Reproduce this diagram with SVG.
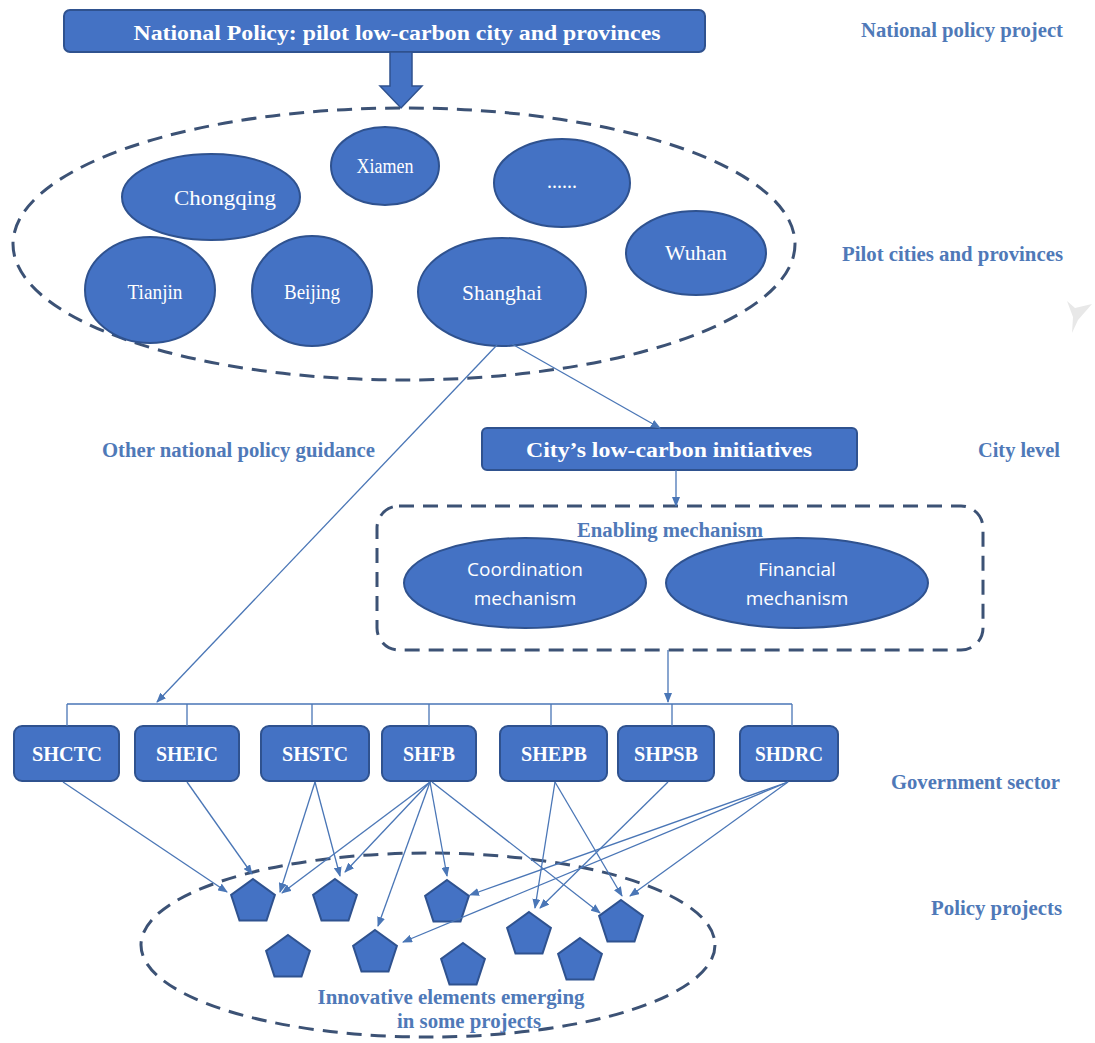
<svg xmlns="http://www.w3.org/2000/svg" width="1095" height="1043" viewBox="0 0 1095 1043">
<defs>
<style>
.box{fill:#4472C4;stroke:#2F528F;stroke-width:2}
.ell{fill:#4472C4;stroke:#2F528F;stroke-width:2}
.wt{fill:#fff;font-family:"Liberation Serif",serif;text-anchor:middle}
.wb{fill:#fff;font-family:"Liberation Serif",serif;font-weight:bold;text-anchor:middle}
.ws{fill:#fff;font-family:"Open Sans","Noto Sans",sans-serif;text-anchor:middle;font-size:19px}
.lbl{fill:#4F79B8;font-family:"Liberation Serif",serif;font-weight:bold;font-size:20px}
.dash{fill:none;stroke:#3C5275;stroke-width:3;stroke-dasharray:15 9}
.con{fill:none;stroke:#4A76B6;stroke-width:1.3;marker-end:url(#ah)}
.bus{fill:none;stroke:#4A76B6;stroke-width:1.3}
</style>
<marker id="ah" markerWidth="10" markerHeight="8" refX="9" refY="4" orient="auto" markerUnits="userSpaceOnUse">
<path d="M0,0 L10,4 L0,8 z" fill="#4A76B6"/>
</marker>
<polygon id="pent" points="0,-23 21.9,-7.1 13.5,18.6 -13.5,18.6 -21.9,-7.1" fill="#4472C4" stroke="#2F528F" stroke-width="2"/>
</defs>
<rect width="1095" height="1043" fill="#fff"/>

<g id="watermark"><polygon points="1067,301 1075,308 1092,304 1078,320 1072,333 1073,317" fill="#e8e8e8"/></g>

<g id="national-policy">
<rect class="box" x="64" y="10" width="641" height="42" rx="6"/>
<text class="wb" x="397" y="40" font-size="20" textLength="527" lengthAdjust="spacingAndGlyphs">National Policy: pilot low-carbon city and provinces</text>
</g>
<g id="block-arrow">
<polygon points="390,52 412,52 412,86 422,86 401,108 380,86 390,86" fill="#4472C4" stroke="#2F528F" stroke-width="1.5"/>
</g>

<g id="pilot-cities">
<ellipse class="dash" cx="404" cy="244" rx="391" ry="136"/>
<g id="chongqing"><ellipse class="ell" cx="211" cy="197" rx="89" ry="43"/><text class="wt" x="225" y="205" font-size="21" textLength="102" lengthAdjust="spacingAndGlyphs">Chongqing</text></g>
<g id="xiamen"><ellipse class="ell" cx="385" cy="166" rx="54" ry="39"/><text class="wt" x="385" y="173" font-size="20" textLength="57" lengthAdjust="spacingAndGlyphs">Xiamen</text></g>
<g id="etc"><ellipse class="ell" cx="562" cy="183" rx="68" ry="44"/><text class="wt" x="562" y="188" font-size="20">......</text></g>
<g id="wuhan"><ellipse class="ell" cx="696" cy="253" rx="70" ry="42"/><text class="wt" x="696" y="260" font-size="20" textLength="62" lengthAdjust="spacingAndGlyphs">Wuhan</text></g>
<g id="tianjin"><ellipse class="ell" cx="150" cy="290" rx="65" ry="53"/><text class="wt" x="155" y="299" font-size="21" textLength="55" lengthAdjust="spacingAndGlyphs">Tianjin</text></g>
<g id="beijing"><ellipse class="ell" cx="312" cy="291" rx="60" ry="55"/><text class="wt" x="312" y="299" font-size="21" textLength="56" lengthAdjust="spacingAndGlyphs">Beijing</text></g>
<g id="shanghai"><ellipse class="ell" cx="502" cy="292" rx="84" ry="54"/><text class="wt" x="502" y="300" font-size="21" textLength="80" lengthAdjust="spacingAndGlyphs">Shanghai</text></g>
</g>

<g id="city-initiatives">
<rect class="box" x="482" y="428" width="375" height="42" rx="5"/>
<text class="wb" x="669" y="457" font-size="20" textLength="286" lengthAdjust="spacingAndGlyphs">City’s low-carbon initiatives</text>
</g>

<g id="enabling">
<rect class="dash" x="377" y="506" width="606" height="144" rx="22"/>
<text class="lbl" x="670" y="537" text-anchor="middle" fill="#4A6FA5" textLength="186" lengthAdjust="spacingAndGlyphs">Enabling mechanism</text>
<g id="coordination"><ellipse class="ell" cx="525" cy="583" rx="121" ry="45"/><text class="ws" x="525" y="576">Coordination</text><text class="ws" x="525" y="605">mechanism</text></g>
<g id="financial"><ellipse class="ell" cx="797" cy="583" rx="131" ry="45"/><text class="ws" x="797" y="576">Financial</text><text class="ws" x="797" y="605">mechanism</text></g>
</g>

<g id="gov-sector">
<g id="shctc"><rect class="box" x="14" y="726" width="105" height="55" rx="8"/><text class="wb" x="67" y="761" font-size="20" textLength="70" lengthAdjust="spacingAndGlyphs">SHCTC</text></g>
<g id="sheic"><rect class="box" x="135" y="726" width="104" height="55" rx="8"/><text class="wb" x="187" y="761" font-size="20" textLength="62" lengthAdjust="spacingAndGlyphs">SHEIC</text></g>
<g id="shstc"><rect class="box" x="261" y="726" width="108" height="55" rx="8"/><text class="wb" x="315" y="761" font-size="20" textLength="66" lengthAdjust="spacingAndGlyphs">SHSTC</text></g>
<g id="shfb"><rect class="box" x="382" y="726" width="94" height="55" rx="8"/><text class="wb" x="429" y="761" font-size="20" textLength="52" lengthAdjust="spacingAndGlyphs">SHFB</text></g>
<g id="shepb"><rect class="box" x="500" y="726" width="107" height="55" rx="8"/><text class="wb" x="554" y="761" font-size="20" textLength="66" lengthAdjust="spacingAndGlyphs">SHEPB</text></g>
<g id="shpsb"><rect class="box" x="618" y="726" width="96" height="55" rx="8"/><text class="wb" x="666" y="761" font-size="20" textLength="64" lengthAdjust="spacingAndGlyphs">SHPSB</text></g>
<g id="shdrc"><rect class="box" x="740" y="726" width="98" height="55" rx="8"/><text class="wb" x="789" y="761" font-size="20" textLength="68" lengthAdjust="spacingAndGlyphs">SHDRC</text></g>
</g>

<g id="policy-projects">
<ellipse class="dash" cx="428" cy="945" rx="287" ry="92"/>
<use href="#pent" x="253" y="902"/>
<use href="#pent" x="335" y="902"/>
<use href="#pent" x="447" y="903"/>
<use href="#pent" x="621" y="923"/>
<use href="#pent" x="529" y="935"/>
<use href="#pent" x="375" y="953"/>
<use href="#pent" x="288" y="958"/>
<use href="#pent" x="463" y="966"/>
<use href="#pent" x="580" y="961"/>
<text class="lbl" x="451" y="1004" text-anchor="middle" textLength="267" lengthAdjust="spacingAndGlyphs">Innovative elements emerging</text>
<text class="lbl" x="469" y="1028" text-anchor="middle" textLength="144" lengthAdjust="spacingAndGlyphs">in some projects</text>
</g>

<g id="connectors">
<line class="con" x1="512" y1="344" x2="660" y2="428"/>
<line class="con" x1="497" y1="345" x2="157" y2="702"/>
<line class="con" x1="676" y1="470" x2="676" y2="506"/>
<line class="con" x1="668" y1="650" x2="668" y2="702"/>
<path class="bus" d="M67,704 H792 M67,704 V726 M187,704 V726 M312,704 V726 M429,704 V726 M551,704 V726 M672,704 V726 M792,704 V726"/>
<line class="con" x1="63" y1="782" x2="227" y2="892"/>
<line class="con" x1="187" y1="782" x2="252" y2="874"/>
<line class="con" x1="315" y1="782" x2="280" y2="892"/>
<line class="con" x1="315" y1="782" x2="340" y2="876"/>
<line class="con" x1="430" y1="782" x2="282" y2="893"/>
<line class="con" x1="430" y1="782" x2="345" y2="872"/>
<line class="con" x1="430" y1="782" x2="378" y2="926"/>
<line class="con" x1="430" y1="782" x2="447" y2="876"/>
<line class="con" x1="432" y1="782" x2="600" y2="913"/>
<line class="con" x1="555" y1="782" x2="535" y2="908"/>
<line class="con" x1="555" y1="782" x2="622" y2="896"/>
<line class="con" x1="668" y1="782" x2="540" y2="908"/>
<line class="con" x1="788" y1="782" x2="470" y2="895"/>
<line class="con" x1="788" y1="782" x2="403" y2="942"/>
<line class="con" x1="788" y1="782" x2="630" y2="896"/>
</g>

<g id="labels">
<text class="lbl" x="1063" y="37" text-anchor="end" textLength="202" lengthAdjust="spacingAndGlyphs">National policy project</text>
<text class="lbl" x="1063" y="261" text-anchor="end" textLength="221" lengthAdjust="spacingAndGlyphs">Pilot cities and provinces</text>
<text class="lbl" x="1060" y="457" text-anchor="end" textLength="82" lengthAdjust="spacingAndGlyphs">City level</text>
<text class="lbl" x="1060" y="789" text-anchor="end" textLength="169" lengthAdjust="spacingAndGlyphs">Government sector</text>
<text class="lbl" x="1062" y="915" text-anchor="end" textLength="131" lengthAdjust="spacingAndGlyphs">Policy projects</text>
<text class="lbl" x="102" y="457" textLength="273" lengthAdjust="spacingAndGlyphs">Other national policy guidance</text>
</g>
</svg>
